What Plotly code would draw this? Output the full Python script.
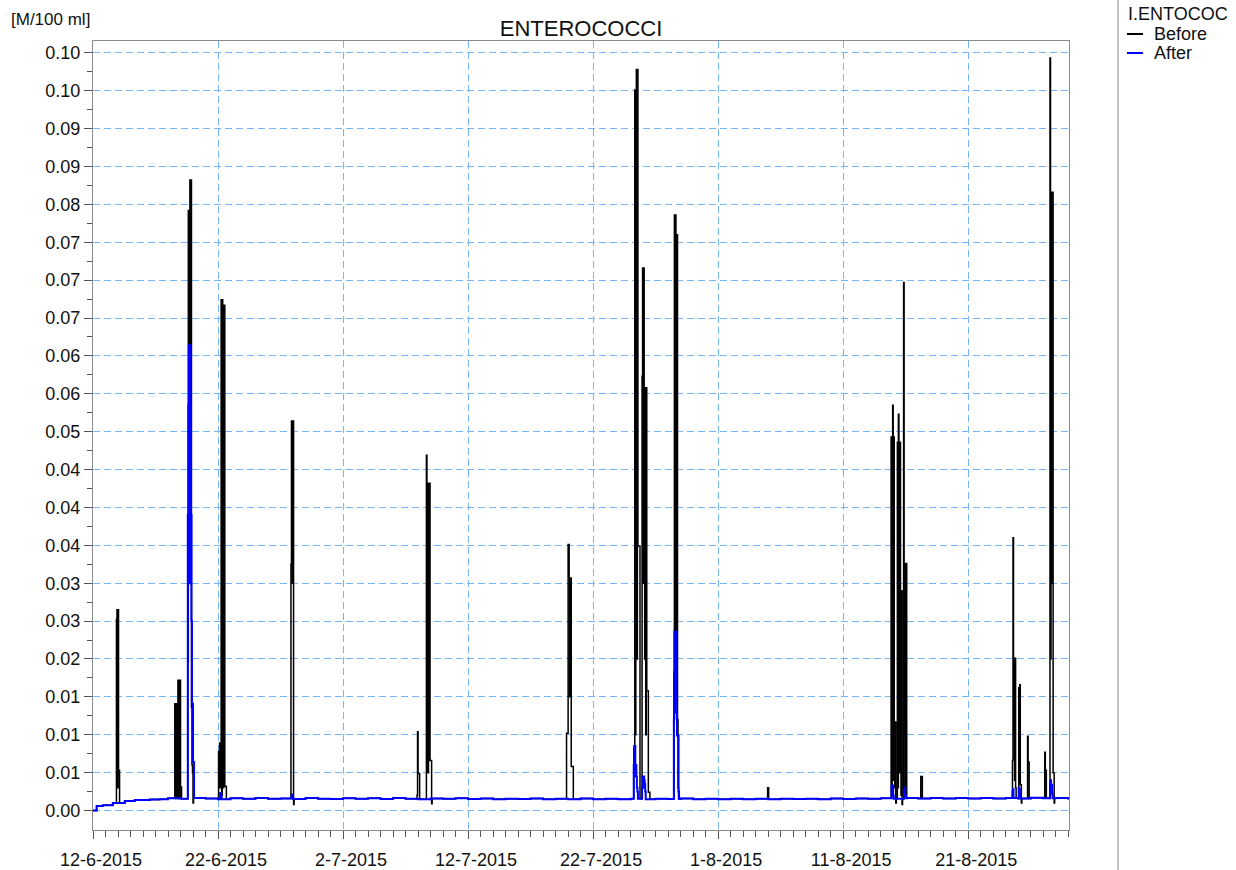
import pandas as pd
import plotly.graph_objects as go

# ---------------------------------------------------------------------------
# Data (concentration, M/100 ml)
# ---------------------------------------------------------------------------
# start-up ramp of the background level
ramp_times = ["2015-06-12 00:00", "2015-06-12 07:00", "2015-06-12 19:00",
              "2015-06-13 14:00", "2015-06-14 13:00", "2015-06-15 08:00",
              "2015-06-16 13:00", "2015-06-17 08:00"]
ramp_values = [0.0000, 0.0006, 0.0007, 0.0010, 0.00125, 0.0014, 0.00145, 0.0015]

# daily background level from 18-6-2015 to 30-8-2015
daily_start = "2015-06-18"
daily_values = [
    # June 18-30
    0.00162, 0.00155, 0.00165, 0.00158, 0.00150, 0.00162, 0.00156, 0.00166,
    0.00154, 0.00160, 0.00152, 0.00164, 0.00157,
    # July
    0.00153, 0.00163, 0.00155, 0.00161, 0.00152, 0.00164, 0.00156, 0.00150,
    0.00160, 0.00154, 0.00163, 0.00152, 0.00158, 0.00150, 0.00157, 0.00151,
    0.00160, 0.00149, 0.00155, 0.00150, 0.00158, 0.00148, 0.00154, 0.00150,
    0.00157, 0.00149, 0.00155, 0.00151, 0.00158, 0.00150, 0.00154,
    # August 1-30
    0.00149, 0.00156, 0.00150, 0.00155, 0.00148, 0.00157, 0.00151, 0.00155,
    0.00149, 0.00158, 0.00152, 0.00160, 0.00155, 0.00163, 0.00157, 0.00165,
    0.00158, 0.00166, 0.00160, 0.00164, 0.00158, 0.00166, 0.00159, 0.00165,
    0.00160, 0.00167, 0.00161, 0.00165, 0.00160, 0.00160,
]

# hourly values during overflow events, "Before"
before_event_starts = [
    "2015-06-13 21:00", "2015-06-18 13:00", "2015-06-19 14:00", "2015-06-22 01:00",
    "2015-06-27 20:00", "2015-07-07 22:00", "2015-07-08 16:00", "2015-07-19 21:00",
    "2015-07-25 06:00", "2015-07-25 22:00", "2015-07-28 11:00", "2015-08-04 23:00",
    "2015-08-14 20:00", "2015-08-15 08:00", "2015-08-15 20:00", "2015-08-17 05:00",
    "2015-08-24 13:00", "2015-08-25 01:00", "2015-08-25 18:00", "2015-08-27 03:00",
    "2015-08-27 13:00",
]
before_event_values = [
    [0.0252, 0.0265, 0.0030, 0.0265, 0.0053, 0.0053],
    [0.0141, 0.0016, 0.0141, 0.0018, 0.0141, 0.0016, 0.0172, 0.0016, 0.0172,
     0.0018, 0.0172, 0.0031, 0.0031],
    [0.0196, 0.0792, 0.0300, 0.0792, 0.0832, 0.0400, 0.0832, 0.0136, 0.0060,
     0.0050, 0.0010],
    [0.0078, 0.0030, 0.0089, 0.0030, 0.0089, 0.0674, 0.0020, 0.0674, 0.0667,
     0.0030, 0.0667, 0.0667, 0.0032, 0.0032, 0.0032],
    [0.0325, 0.0514, 0.0514, 0.0300, 0.0514, 0.0008],
    [0.0020, 0.0104, 0.0049, 0.0049, 0.0049],
    [0.0469, 0.0060, 0.0432, 0.0050, 0.0432, 0.0066, 0.0432, 0.0066, 0.0066,
     0.0066, 0.0009],
    [0.0102, 0.0102, 0.0102, 0.0351, 0.0351, 0.0307, 0.0150, 0.0307, 0.0307,
     0.0058, 0.0058, 0.0058, 0.0058],
    [0.0083, 0.0083, 0.0951, 0.0100, 0.0951, 0.0978, 0.0200, 0.0978, 0.0349,
     0.0349, 0.0349, 0.0349],
    [0.0573, 0.0716, 0.0300, 0.0716, 0.0558, 0.0200, 0.0558, 0.0100, 0.0558,
     0.0158, 0.0158, 0.0158, 0.0024, 0.0024, 0.0024],
    [0.0183, 0.0786, 0.0200, 0.0786, 0.0760, 0.0150, 0.0760, 0.0120, 0.0030],
    [0.0030, 0.0030],
    [0.0493, 0.0030, 0.0493, 0.0535, 0.0040, 0.0493, 0.0117, 0.0030, 0.0117,
     0.0010],
    [0.0486, 0.0030, 0.0523, 0.0486, 0.0050, 0.0486, 0.0290, 0.0020, 0.0290,
     0.0008],
    [0.0697, 0.0100, 0.0326, 0.0030, 0.0326, 0.0326, 0.0016],
    [0.0045, 0.0045, 0.0045],
    [0.0066, 0.0360, 0.0100, 0.0201, 0.0040, 0.0201, 0.0030],
    [0.0162, 0.0040, 0.0166, 0.0034, 0.0034, 0.0010],
    [0.0098, 0.0064, 0.0064],
    [0.0077, 0.0053, 0.0053],
    [0.0993, 0.0200, 0.0816, 0.0300, 0.0816, 0.0816, 0.0050, 0.0050, 0.0010],
]

# hourly values during overflow events, "After"
after_event_starts = [
    "2015-06-19 14:00", "2015-06-22 04:00", "2015-06-27 21:00", "2015-07-25 06:00",
    "2015-07-25 22:00", "2015-07-28 11:00", "2015-08-14 21:00", "2015-08-15 21:00",
    "2015-08-24 13:00", "2015-08-25 01:00", "2015-08-27 13:00",
]
after_event_values = [
    [0.0390, 0.0535, 0.0614, 0.0300, 0.0614, 0.0535, 0.0390, 0.0250, 0.0141,
     0.0141, 0.0064, 0.0064],
    [0.0023, 0.0023, 0.0020],
    [0.0019, 0.0021],
    [0.0060, 0.0085, 0.0085, 0.0045, 0.0060, 0.0045, 0.0030, 0.0025],
    [0.0030, 0.0045, 0.0030, 0.0045, 0.0040, 0.0035, 0.0025],
    [0.0120, 0.0236, 0.0150, 0.0236, 0.0129, 0.0129, 0.0099, 0.0099, 0.0099,
     0.0025],
    [0.0033, 0.0028, 0.0033, 0.0020],
    [0.0028, 0.0030, 0.0020],
    [0.0025, 0.0028],
    [0.0030, 0.0028, 0.0022],
    [0.0034, 0.0040, 0.0034, 0.0034, 0.0022],
]

# axis ticks
x_tick_dates = ["2015-06-12", "2015-06-22", "2015-07-02", "2015-07-12",
                "2015-07-22", "2015-08-01", "2015-08-11", "2015-08-21"]
x_tick_labels = ["12-6-2015", "22-6-2015", "2-7-2015", "12-7-2015",
                 "22-7-2015", "1-8-2015", "11-8-2015", "21-8-2015"]
y_tick_values = [i * 0.005 for i in range(21)]
y_tick_labels = ["0.00", "0.01", "0.01", "0.01", "0.02", "0.03", "0.03", "0.04",
                 "0.04", "0.04", "0.05", "0.06", "0.06", "0.07", "0.07", "0.07",
                 "0.08", "0.09", "0.09", "0.10", "0.10"]


# ---------------------------------------------------------------------------
# Build step series: background level with event hours laid over it
# ---------------------------------------------------------------------------
def background():
    t = list(pd.to_datetime(ramp_times))
    t += list(pd.date_range(daily_start, periods=len(daily_values), freq="D"))
    return pd.Series(ramp_values + daily_values, index=t).sort_index()


def build_series(starts, values):
    base = background()
    windows = []
    for s, vals in zip(starts, values):
        t0 = pd.Timestamp(s)
        windows.append((t0, t0 + pd.Timedelta(hours=len(vals))))

    def inside(t):
        return any(a <= t < b for a, b in windows)

    pts = {}
    for t, v in base.items():
        if not inside(t):
            pts[t] = v
    for (t0, t1) in windows:
        if not inside(t1):
            pts[t1] = base[base.index <= t1].iloc[-1]
    for s, vals in zip(starts, values):
        t0 = pd.Timestamp(s)
        for k, v in enumerate(vals):
            pts[t0 + pd.Timedelta(hours=k)] = v
    ser = pd.Series(pts).sort_index()
    return ser.index, ser.values


bt, bv = build_series(before_event_starts, before_event_values)
at, av = build_series(after_event_starts, after_event_values)

# ---------------------------------------------------------------------------
# Figure
# ---------------------------------------------------------------------------
FONT = "Liberation Sans, Arial, sans-serif"
GRID = "#74b6f7"
AXIS = "#8a8a8a"
TXT = "#111111"

fig = go.Figure()
fig.add_trace(go.Scatter(x=bt, y=bv, mode="lines", name="Before",
                         line=dict(color="#000000", width=1.5, shape="hv")))
fig.add_trace(go.Scatter(x=at, y=av, mode="lines", name="After",
                         line=dict(color="#0000ff", width=2, shape="hv")))

fig.update_layout(
    width=1236, height=870,
    margin=dict(l=93, r=167, t=41, b=40, autoexpand=False),
    paper_bgcolor="white", plot_bgcolor="white",
    showlegend=False,
    font=dict(family=FONT, size=18, color=TXT),
    title=dict(text="ENTEROCOCCI", x=0.5, xref="paper", xanchor="center",
               y=1 - 28 / 870, yref="container", yanchor="middle",
               font=dict(family=FONT, size=22, color=TXT)),
)

fig.update_xaxes(
    type="date", automargin=False,
    range=["2015-06-12 00:00", "2015-08-29 01:30"],
    tickmode="array", tickvals=x_tick_dates, ticktext=x_tick_labels,
    ticks="outside", ticklen=8, tickwidth=1, tickcolor="#555555",
    ticklabelshift=8, ticklabelstandoff=5,
    tickfont=dict(family=FONT, size=18, color=TXT),
    showline=True, linecolor=AXIS, linewidth=1, mirror=True,
    showgrid=True, gridcolor=GRID, gridwidth=1, griddash="7px,4px",
    zeroline=False,
    minor=dict(dtick=86400000, tick0="2015-06-12", ticks="outside",
               ticklen=6, tickcolor="#555555", showgrid=False),
)

fig.update_yaxes(
    automargin=False,
    range=[-0.00257, 0.10156],
    tickmode="array", tickvals=y_tick_values, ticktext=y_tick_labels,
    ticks="outside", ticklen=8, tickwidth=1, tickcolor="#555555",
    tickfont=dict(family=FONT, size=18, color=TXT),
    showline=True, linecolor=AXIS, linewidth=1, mirror=True,
    showgrid=True, gridcolor=GRID, gridwidth=1, griddash="7px,4px",
    zeroline=False,
    minor=dict(tickvals=[0.0025 + i * 0.005 for i in range(20)],
               ticks="outside", ticklen=5, tickcolor="#555555", showgrid=False),
)

# pixel helpers for the decorations outside the plot area
PX_L, PX_R, PX_T, PX_B = 93, 1069, 41, 830


def px_x(px):
    return (px - PX_L) / (PX_R - PX_L)


def px_y(py):
    return (PX_B - py) / (PX_B - PX_T)


# unit label
fig.add_annotation(text="[M/100 ml]", xref="paper", yref="paper",
                   x=px_x(9), y=px_y(19), xanchor="left", yanchor="middle",
                   showarrow=False, font=dict(family=FONT, size=17, color=TXT))

# legend panel, separated by a vertical rule
fig.add_shape(type="line", xref="paper", yref="paper",
              x0=px_x(1118), x1=px_x(1118), y0=px_y(872), y1=px_y(-2),
              line=dict(color="#8a8a8a", width=1))
fig.add_annotation(text="I.ENTOCOC", xref="paper", yref="paper",
                   x=px_x(1126), y=px_y(14), xanchor="left", yanchor="middle",
                   showarrow=False, font=dict(family=FONT, size=18, color=TXT))
for label, color, py in [("Before", "#000000", 34), ("After", "#0000ff", 53)]:
    fig.add_shape(type="line", xref="paper", yref="paper",
                  x0=px_x(1127), x1=px_x(1143), y0=px_y(py), y1=px_y(py),
                  line=dict(color=color, width=2))
    fig.add_annotation(text=label, xref="paper", yref="paper",
                       x=px_x(1152), y=px_y(py), xanchor="left", yanchor="middle",
                       showarrow=False,
                       font=dict(family=FONT, size=18, color=TXT))

fig.write_html("out.html")
